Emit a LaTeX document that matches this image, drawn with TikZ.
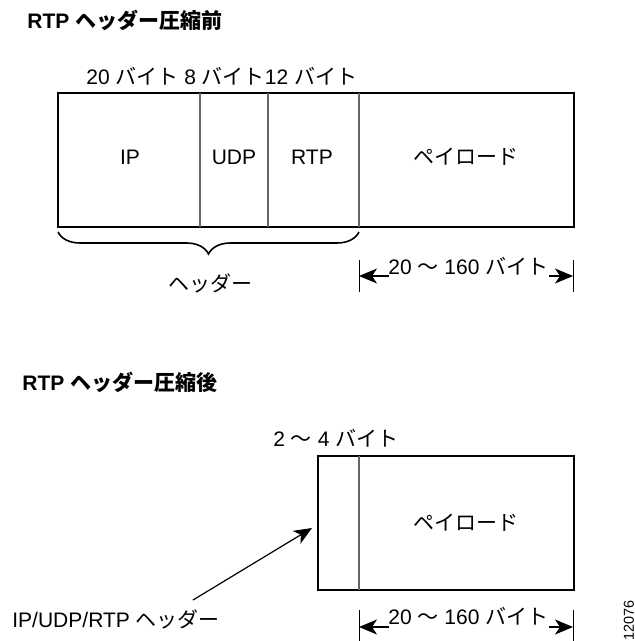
\documentclass[tikz,border=0pt]{standalone}
\usepackage{fontspec}
\setmainfont{Liberation Sans}
\newfontfamily\jpfont{Noto Sans CJK JP}
\usetikzlibrary{calc}
\usetikzlibrary{arrows.meta}
\usetikzlibrary{decorations.pathreplacing}

\begin{document}
\begin{tikzpicture}[x=0.5pt,y=-0.5pt,
	every node/.style={font=\fontsize{10.5}{12.6}\selectfont, inner sep=0pt},
	frame/.style={draw=black, line width=0.6pt},
	divider/.style={draw=black!60, line width=0.7pt},
	dimbar/.style={draw=black, line width=0.5pt},
	dimarrow/.style={-{Stealth[length=9pt,width=7.5pt,inset=2.5pt]}, line width=0.6pt},
	]
	\useasboundingbox (0,0) rectangle (635,641);

	% Before compression
	\node[anchor=west, font=\fontsize{10.5}{12.6}\selectfont\bfseries] (titlepre) at (27,20) {RTP {\jpfont ヘッダー圧縮前}};
	\node[anchor=west] (sizes) at (86,76) {20 {\jpfont バイト} 8 {\jpfont バイト}12 {\jpfont バイト}};

	\coordinate (A) at (58,93);
	\coordinate (B) at (574,227);
	\draw[frame] (A) rectangle (B);
	\draw[divider] (200,93) -- (200,227);
	\draw[divider] (268,93) -- (268,227);
	\draw[divider] (359,93) -- (359,227);

	\node (ip) at (130,157) {IP};
	\node (udp) at (234,157) {UDP};
	\node (rtp) at (312,157) {RTP};
	\node (payload) at (466,157) {\jpfont ペイロード};

	% Mark the header part
	\draw[line width=0.8pt, decorate, decoration={brace, amplitude=11pt}] (359,232) -- (58,232);
	\node (header) at (210,283) {\jpfont ヘッダー};

	% Payload length
	\coordinate (P1) at (359,260);
	\coordinate (P2) at (359,292);
	\coordinate (Q1) at (573,260);
	\coordinate (Q2) at (573,292);
	\draw[dimbar] (P1) -- (P2);
	\draw[dimbar] (Q1) -- (Q2);
	\node[anchor=west] (lenpre) at (388,266) {20 {\jpfont 〜} 160 {\jpfont バイト}};
	\draw[dimarrow] ($(P1)!0.5!(P2)+(30,0)$) -- ($(P1)!0.5!(P2)$);
	\draw[dimarrow] ($(Q1)!0.5!(Q2)-(24,0)$) -- ($(Q1)!0.5!(Q2)$);

	% After compression
	\node[anchor=west, font=\fontsize{10.5}{12.6}\selectfont\bfseries] (titlepost) at (22,382) {RTP {\jpfont ヘッダー圧縮後}};
	\node[anchor=west] (hdrsize) at (273,438) {2 {\jpfont 〜} 4 {\jpfont バイト}};

	\coordinate (C) at (318,456);
	\coordinate (D) at (574,590);
	\draw[frame] (C) rectangle (D);
	\draw[divider] (359,456) -- (359,590);
	\node (payloadpost) at (466,523) {\jpfont ペイロード};

	% Compressed header
	\node[anchor=west] (hdrlabel) at (12,619) {IP/UDP/RTP {\jpfont ヘッダー}};
	\coordinate (hdrfoot) at (193,600);
	\coordinate (hdrtip) at (312,528);
	\draw[dimarrow] (hdrfoot) -- (hdrtip);

	% Payload length
	\coordinate (R1) at (359,610);
	\coordinate (R2) at (359,645);
	\coordinate (S1) at (573,610);
	\coordinate (S2) at (573,645);
	\draw[dimbar] (R1) -- (R2);
	\draw[dimbar] (S1) -- (S2);
	\node[anchor=west] (lenpost) at (388,616) {20 {\jpfont 〜} 160 {\jpfont バイト}};
	\draw[dimarrow] (359+30,627) -- (R1|-0,627);
	\draw[dimarrow] (573-24,627) -- (S1|-0,627);

	\node[rotate=90, font=\fontsize{7.2}{8}\selectfont] (figno) at (629,620) {12076};
\end{tikzpicture}
\end{document}
